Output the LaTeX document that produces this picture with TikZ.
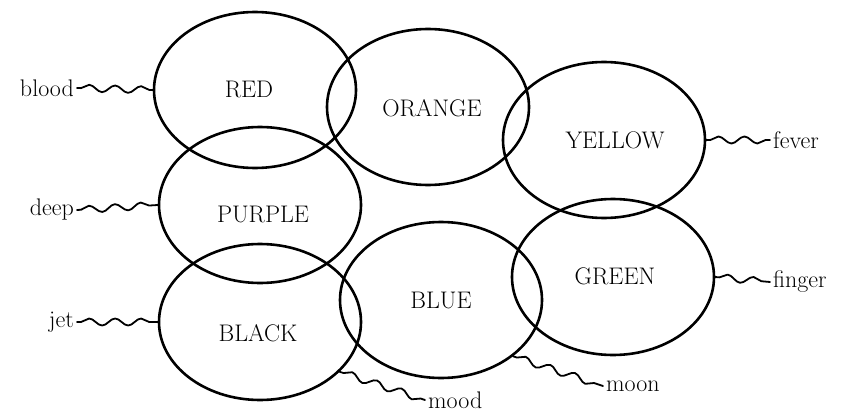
\documentclass[tikz,border=0pt]{standalone}
\usepackage{tikz}
\usetikzlibrary{shapes.geometric,decorations.pathmorphing}

\begin{document}
\begin{tikzpicture}[x=1pt, y=-1pt, line join=round, line cap=round,
  ring/.style={draw, ellipse, line width=2.6pt, minimum width=202pt, minimum height=156pt, inner sep=0pt},
  colour/.style={font=\fontsize{24}{28}\selectfont, inner sep=0pt},
  word/.style={font=\fontsize{24}{28}\selectfont, inner sep=3pt},
  wave/.style={line width=1.8pt, decorate, decoration={snake, segment length=26pt, amplitude=3.5pt, pre length=4pt, post length=3pt}}]
\useasboundingbox (0,0) rectangle (843,415);
% rings
\node[ring] (red) at (255,90) {};
\node[ring] (orange) at (428,107) {};
\node[ring] (yellow) at (604,140) {};
\node[ring] (purple) at (260,205) {};
\node[ring] (green) at (613,277) {};
\node[ring] (blue) at (441,300) {};
\node[ring] (black) at (260,322) {};
% names
\node[colour] (redtxt) at (249,89) {RED};
\node[colour] (orangetxt) at (432,108) {ORANGE};
\node[colour] (yellowtxt) at (615,140) {YELLOW};
\node[colour] (purpletxt) at (263,214) {PURPLE};
\node[colour] (greentxt) at (615,276) {GREEN};
\node[colour] (bluetxt) at (441,300) {BLUE};
\node[colour] (blacktxt) at (258,333) {BLACK};
% words
\node[word, anchor=east] (blood) at (77,88) {blood};
\node[word, anchor=east] (deep) at (77,210) {deep};
\node[word, anchor=east] (jet) at (77,322) {jet};
\node[word, anchor=west] (fever) at (770,140) {fever};
\node[word, anchor=west] (finger) at (770,282) {finger};
\node[word, anchor=west] (moon) at (603,386) {moon};
\node[word, anchor=west] (mood) at (425,400) {mood};
\draw[wave] (blood.east) -- (red.west);
\draw[wave] (deep.east) -- (purple.west);
\draw[wave] (jet.east) -- (black.west);
\draw[wave] (yellow.east) -- (fever.west);
\draw[wave] (green.east) -- (finger.west);
\draw[wave] (blue.-38) -- (moon.west);
\draw[wave] (black.-32) -- (mood.west);
\end{tikzpicture}
\end{document}
